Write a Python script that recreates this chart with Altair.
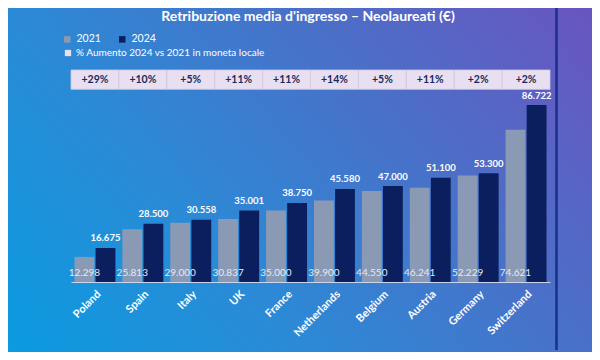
import altair as alt
import pandas as pd

countries = ["Poland", "Spain", "Italy", "UK", "France", "Netherlands",
             "Belgium", "Austria", "Germany", "Switzerland"]
v2021 = [12298, 25813, 29000, 30837, 35000, 39900, 44550, 46241, 52229, 74621]
v2024 = [16675, 28500, 30558, 35001, 38750, 45580, 47000, 51100, 53300, 86722]
pct = ["+29%", "+10%", "+5%", "+11%", "+11%", "+14%", "+5%", "+11%", "+2%", "+2%"]
years = ["2021", "2024"]
title_text = "Retribuzione media d'ingresso – Neolaureati (€)"
pct_legend = "% Aumento 2024 vs 2021  in moneta locale"

FONT = "Lato"
GRAY = "#8b9ab4"
NAVY = "#0b1f5e"
LAV = "#e8dff1"

rows = []
for c, a, b in zip(countries, v2021, v2024):
    rows.append({"country": c, "year": "2021", "value": a})
    rows.append({"country": c, "year": "2024", "value": b})
df = pd.DataFrame(rows)
df_band = pd.DataFrame({"country": countries, "pct": pct, "label": [pct_legend] * len(countries)})
one = pd.DataFrame({"t": [title_text]})

W, H = 479, 274
PL, PT, PR, PB = 63, 0, 42, 70

X = alt.X("country:N", sort=countries, title=None,
          scale=alt.Scale(paddingInner=0, paddingOuter=0),
          axis=alt.Axis(labelAngle=-45, labelAlign="right", labelBaseline="top",
                        labelPadding=6, labelFont=FONT, labelFontWeight="bold",
                        labelFontSize=11, labelColor="white", ticks=False,
                        domainColor="#c9d6ee", domainWidth=1.2, grid=False))
XO = alt.XOffset("year:N", sort=years, scale=alt.Scale(paddingInner=0.06, paddingOuter=0.165))
Y = alt.Y("value:Q", scale=alt.Scale(domain=[0, 134260], nice=False, zero=True), axis=None)

grad = alt.Gradient(
    gradient="linear", x1=0, y1=1, x2=1.2, y2=0.4,
    stops=[alt.GradientStop(color="#0a9be0", offset=0),
           alt.GradientStop(color="#2b8ad6", offset=0.333),
           alt.GradientStop(color="#4a70c8", offset=0.667),
           alt.GradientStop(color="#6a55c0", offset=1)])

bg = alt.Chart(one).mark_rect(fill=grad).encode(
    x=alt.value(-PL), x2=alt.value(W + PR), y=alt.value(-PT), y2=alt.value(H + PB))

band = alt.Chart(df_band).mark_rect(stroke="#d3c8e4", strokeWidth=0.8).encode(
    x=X, y=alt.value(62), y2=alt.value(81.3),
    fill=alt.Fill("label:N", scale=alt.Scale(range=[LAV]),
                  legend=alt.Legend(title=None, orient="none", legendX=-8, legendY=40,
                                    symbolType="square", symbolSize=40, symbolStrokeWidth=0,
                                    labelFont=FONT, labelFontSize=10, labelColor="white",
                                    labelOffset=3, padding=0, labelLimit=400)))

pct_text = alt.Chart(df_band).mark_text(font=FONT, fontWeight="bold", fontSize=10.5,
                                        color="#1b2a5c", baseline="middle").encode(
    x=X, y=alt.value(72), text="pct:N")

bars = alt.Chart(df).mark_bar().encode(
    x=X, xOffset=XO, y=Y,
    color=alt.Color("year:N", sort=years,
                    scale=alt.Scale(domain=years, range=[GRAY, NAVY]),
                    legend=alt.Legend(title=None, orient="none", legendX=-9, legendY=26,
                                      direction="horizontal", symbolType="square",
                                      symbolSize=42, symbolStrokeWidth=0,
                                      labelFont=FONT, labelFontSize=10.5, labelColor="white",
                                      labelOffset=4, columnPadding=16, padding=0)))

lab24 = alt.Chart(df).transform_filter("datum.year == '2024'").transform_calculate(
    lbl="replace(format(datum.value, ','), ',', '.')").mark_text(
    font=FONT, fontWeight="bold", fontSize=9.5, color="white", baseline="middle", dy=-9.5).encode(
    x=X, xOffset=XO, y=Y, text="lbl:N")

lab21 = alt.Chart(df).transform_filter("datum.year == '2021'").transform_calculate(
    lbl="replace(format(datum.value, ','), ',', '.')").mark_text(
    font=FONT, fontSize=10, color="#e4e9f2", baseline="middle", dy=-9.5).encode(
    x=X, xOffset=XO, y=alt.datum(0), text="lbl:N")

rule = alt.Chart(one).mark_rule(color="#1a2f8c", strokeWidth=2.5).encode(
    x=alt.value(485.5), y=alt.value(0), y2=alt.value(342))

title = alt.Chart(one).mark_text(font=FONT, fontWeight="bold", fontSize=14, color="white",
                                 baseline="middle", align="center").encode(
    x=alt.value(237), y=alt.value(9), text="t:N")

chart = alt.layer(bg, band, pct_text, bars, lab24, lab21, rule, title).properties(
    width=W, height=H,
    autosize=alt.AutoSizeParams(type="none"),
    padding={"left": PL, "top": PT, "right": PR, "bottom": PB},
    background="#2b8ad6",
).configure_view(stroke=None)

chart.save("out.html", embed_options={"renderer": "svg", "actions": False})
